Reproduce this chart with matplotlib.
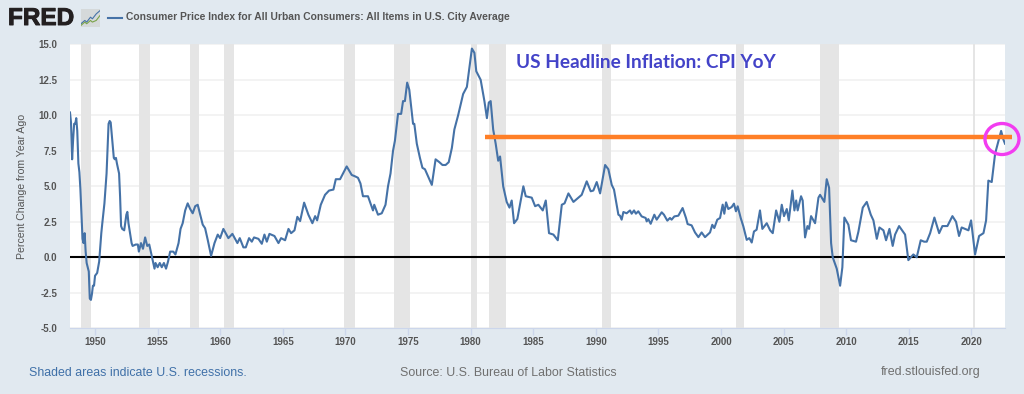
import matplotlib
matplotlib.use("Agg")
import matplotlib.pyplot as plt
import matplotlib.patheffects as pe
from matplotlib.patches import Ellipse, Rectangle

# dates (decimal years) and CPI YoY
dates_a = [1948.0, 1948.08, 1948.17, 1948.25, 1948.33, 1948.42, 1948.5, 1948.58, 1948.67, 1948.75, 1948.83, 1948.92,
           1949.0, 1949.08, 1949.17, 1949.25, 1949.33, 1949.5, 1949.58, 1949.67, 1949.75, 1949.83, 1949.92, 1950.0,
           1950.17, 1950.33, 1950.5, 1950.58, 1950.75, 1950.92, 1951.08, 1951.17, 1951.25, 1951.33, 1951.5, 1951.58,
           1951.67, 1951.75, 1951.92, 1952.0, 1952.08, 1952.17, 1952.33, 1952.5, 1952.58, 1952.67, 1952.92, 1953.0,
           1953.25, 1953.42, 1953.5, 1953.67, 1953.83, 1954.0, 1954.17, 1954.33, 1954.5, 1954.75, 1954.83, 1955.0,
           1955.17, 1955.33, 1955.5, 1955.67, 1955.83, 1956.0, 1956.25, 1956.42, 1956.67, 1956.83, 1957.0, 1957.2,
           1957.4, 1957.6, 1957.8, 1958.0, 1958.2, 1958.4, 1958.6]
values_a = [10.2, 9.5, 6.9, 8.3, 9.4, 9.4, 9.8, 8.9, 6.6, 6.0, 4.8, 3.0,
            1.3, 1.0, 1.7, 0.4, -0.4, -1.0, -2.9, -3.0, -2.6, -2.0, -2.0, -1.3,
            -1.1, -0.3, 1.7, 2.4, 3.8, 5.9, 9.4, 9.6, 9.5, 8.7, 7.0, 6.9,
            7.0, 6.6, 5.9, 4.3, 2.2, 2.0, 1.9, 3.0, 3.2, 2.4, 1.0, 0.8,
            0.9, 0.9, 0.4, 1.0, 0.6, 1.4, 0.8, 0.9, 0.2, -0.8, -0.4, -0.7,
            -0.4, -0.7, -0.4, -0.8, -0.3, 0.4, 0.4, 0.2, 1.0, 2.0, 2.4, 3.3,
            3.8, 3.4, 3.1, 3.6, 3.7, 3.0, 2.3]

dates_b = [1958.79, 1959.0, 1959.27, 1959.54, 1959.8, 1959.99, 1960.25, 1960.65, 1960.97, 1961.37, 1961.56, 1961.85,
           1962.04, 1962.3, 1962.52, 1962.7, 1963.05, 1963.32, 1963.53, 1963.72, 1963.93, 1964.33, 1964.65, 1964.86,
           1965.18, 1965.45, 1965.66, 1965.93, 1966.16, 1966.38, 1966.7, 1967.04, 1967.36, 1967.58, 1967.74, 1968.03,
           1968.37, 1968.69, 1969.04, 1969.23, 1969.57, 1970.1, 1970.5, 1970.77,
           1971.0, 1971.2, 1971.4, 1971.8, 1972.2, 1972.3, 1972.6, 1972.9, 1973.2, 1973.4, 1973.6, 1973.8]
values_b = [2.05, 1.23, 0.1, 1.0, 1.6, 1.35, 2.0, 1.35, 1.65, 1.0, 1.35, 0.7,
            0.7, 1.35, 1.1, 1.4, 1.3, 0.95, 1.6, 1.1, 1.65, 1.5, 1.0, 1.35,
            1.2, 2.0, 1.7, 1.9, 2.85, 2.55, 3.85, 3.0, 2.4, 2.9, 2.6, 3.7,
            4.4, 4.7, 4.77, 5.5, 5.5, 6.4, 5.8, 5.7,
            5.6, 5.2, 4.3, 4.3, 3.3, 3.7, 3.0, 3.1, 3.7, 5.0, 5.9, 7.5]

dates_c = [1973.95, 1974.2, 1974.45, 1974.6, 1974.75, 1974.93, 1975.1, 1975.4, 1975.5, 1975.7, 1975.95, 1976.15,
           1976.35, 1976.6, 1976.9, 1977.2, 1977.5, 1977.75, 1978.0, 1978.25, 1978.5, 1978.7, 1979.0, 1979.4,
           1979.7, 1980.1, 1980.3, 1980.45, 1980.8, 1981.1, 1981.3, 1981.45, 1981.6, 1981.8, 1982.0, 1982.2,
           1982.35, 1982.6, 1982.88, 1983.1, 1983.28, 1983.47, 1983.73, 1984.21, 1984.4, 1984.88, 1985.15, 1985.41,
           1985.76, 1986.0, 1986.26, 1986.61, 1986.96, 1987.28, 1987.5, 1987.81, 1988.21, 1988.87, 1989.27, 1989.59,
           1989.8, 1990.07, 1990.34, 1990.74, 1991.0, 1991.27, 1991.45]
values_c = [8.2, 10.1, 10.1, 11.0, 11.0, 12.3, 11.8, 9.4, 9.4, 8.0, 7.0, 6.3,
            6.2, 5.7, 5.1, 6.9, 6.7, 6.5, 6.5, 6.7, 7.7, 9.0, 10.0, 11.5,
            12.0, 14.7, 14.4, 13.1, 12.5, 11.0, 9.8, 10.9, 11.0, 9.0, 8.0, 6.8,
            7.1, 5.0, 3.9, 3.5, 4.0, 2.4, 2.7, 5.0, 4.3, 4.2, 3.6, 3.7,
            3.3, 4.0, 1.7, 1.6, 1.2, 3.7, 3.8, 4.5, 3.9, 4.4, 5.35, 4.65,
            4.7, 5.3, 4.5, 6.5, 6.2, 5.1, 4.77]

dates_d = [1991.8, 1991.93, 1992.06, 1992.2, 1992.46, 1992.73, 1992.86, 1993.05, 1993.2, 1993.39, 1993.66, 1993.98,
           1994.06, 1994.19, 1994.38, 1994.67, 1994.86, 1995.26, 1995.44, 1995.71, 1995.92, 1996.05, 1996.27, 1996.59,
           1996.93, 1997.2, 1997.33, 1997.65, 1997.92, 1998.19, 1998.45, 1998.72, 1999.12, 1999.3, 1999.46, 1999.7,
           1999.92, 2000.13, 2000.26, 2000.4, 2000.58, 2000.85, 2001.03, 2001.19, 2001.33, 2001.57, 2001.78, 2002.05,
           2002.26, 2002.45, 2002.63, 2002.84, 2003.11]
values_d = [3.0, 2.93, 2.65, 3.19, 3.1, 3.3, 3.07, 3.3, 3.07, 3.24, 2.88, 2.77,
            2.53, 2.69, 2.36, 3.0, 2.65, 3.17, 3.0, 2.58, 2.77, 2.65, 2.88, 2.93,
            3.47, 2.77, 2.34, 2.25, 1.75, 1.42, 1.75, 1.42, 1.75, 2.29, 2.06, 2.65,
            2.77, 3.71, 3.07, 3.87, 3.4, 3.54, 3.78, 3.24, 3.59, 2.77, 2.18, 1.23,
            1.35, 1.04, 1.82, 1.94, 3.3]

dates_e = [2003.3, 2003.65, 2003.92, 2004.13, 2004.4, 2004.66, 2004.85, 2005.03, 2005.25, 2005.41, 2005.7, 2005.86,
           2006.0, 2006.12, 2006.39, 2006.52, 2006.71, 2006.9, 2007.03, 2007.19, 2007.51, 2007.78, 2007.91, 2008.25,
           2008.44, 2008.63, 2008.79, 2008.92, 2009.24, 2009.51, 2009.69, 2009.85, 2010.17, 2010.38, 2010.78, 2010.97,
           2011.32, 2011.64, 2011.96, 2012.17, 2012.44, 2012.65, 2012.97, 2013.18, 2013.45, 2013.71, 2013.9, 2014.22,
           2014.7, 2014.96, 2015.36, 2015.63, 2015.95, 2016.22, 2016.43, 2016.7, 2017.04, 2017.42, 2017.68, 2018.08,
           2018.48, 2018.77, 2019.01, 2019.22, 2019.76, 2019.97, 2020.29, 2020.61, 2020.96, 2021.17, 2021.35, 2021.62,
           2021.89, 2022.37, 2022.55, 2022.68]
values_e = [2.0, 2.4, 1.9, 1.7, 3.3, 2.5, 3.7, 2.9, 3.4, 2.6, 4.7, 3.3,
            4.0, 3.3, 4.3, 4.0, 1.4, 2.2, 2.0, 2.9, 2.4, 4.2, 4.4, 3.9,
            5.5, 4.9, 1.0, 0.0, -0.8, -2.0, -0.7, 2.8, 2.3, 1.2, 1.1, 1.8,
            3.5, 3.9, 3.0, 2.6, 1.3, 2.1, 1.9, 1.2, 2.0, 0.8, 1.6, 2.2,
            1.6, -0.2, 0.2, 0.0, 1.2, 1.1, 1.1, 1.7, 2.8, 1.7, 2.2, 2.2,
            2.9, 2.5, 1.5, 2.1, 1.9, 2.6, 0.2, 1.5, 1.7, 2.6, 5.4, 5.3,
            7.3, 8.9, 8.3, 8.0]

dates = dates_a + dates_b + dates_c + dates_d + dates_e
cpi_yoy = values_a + values_b + values_c + values_d + values_e

recession_start = [1948.85, 1953.5, 1957.6, 1960.3, 1969.9, 1973.85, 1980.0, 1981.5, 1990.5, 2001.2, 2007.9, 2020.1]
recession_end = [1949.7, 1954.35, 1958.3, 1961.1, 1970.8, 1975.15, 1980.5, 1982.85, 1991.2, 2001.85, 2009.4, 2020.3]
year_ticks = list(range(1950, 2021, 5))
y_ticks = [-5.0, -2.5, 0.0, 2.5, 5.0, 7.5, 10.0, 12.5, 15.0]
headline_level = 8.45

plt.rcParams['font.family'] = ['Liberation Sans', 'DejaVu Sans']
bg = '#e1e9f0'
fig = plt.figure(figsize=(10.24, 3.94), dpi=100, facecolor=bg)
ax = fig.add_axes([70/1024, 1-328.3/394, 935/1024, 284/394])

for s, e in zip(recession_start, recession_end):
    ax.axvspan(s, e, color='#e5e5e5', lw=0, zorder=1)
ax.grid(axis='y', color='#f2f2f2', lw=1.3, zorder=0)
ax.set_axisbelow(True)
ax.axhline(0, color='black', lw=1.5, zorder=3)
ax.plot(dates, cpi_yoy, color='#4572a7', lw=1.5, zorder=4, solid_joinstyle='round')

ax.set_xlim(1948.0, 2022.68)
ax.set_ylim(-5, 15)
ax.set_xticks(year_ticks)
ax.set_yticks(y_ticks)
ax.set_yticklabels([f"{v:.1f}" for v in y_ticks])
ax.tick_params(axis='x', colors='#ccd6eb', length=5, width=1, labelcolor='#555555', labelsize=7, pad=1)
ax.tick_params(axis='y', length=0, labelcolor='#555555', labelsize=7, pad=9)
for lab in ax.get_xticklabels() + ax.get_yticklabels():
    lab.set_fontweight('bold')
for side in ['top', 'right', 'left']:
    ax.spines[side].set_visible(False)
ax.spines['bottom'].set_color('#ccd6eb')
ax.set_ylabel("Percent Change from Year Ago", fontsize=7.6, color='#555555', labelpad=8)

# annotations put on top of the FRED chart
ax.plot([1981.15, 2023.2], [headline_level, headline_level], color='#ff7f27', lw=3.2,
        solid_capstyle='butt', clip_on=False, zorder=5)
fig.add_artist(Ellipse((1002/1024, 1-139/394), 34/1024, 31/394, transform=fig.transFigure,
                       fill=False, edgecolor='#f23cf0', lw=2.4, zorder=6))
fig.text(516/1024, 1-63/394, "US Headline Inflation: CPI YoY", family='Lato', fontweight='bold',
         fontsize=13.7, color='#4343c8', va='center')

# header
logo = fig.text(8/1024, 1-18.5/394, "FRED", fontsize=17.5, fontweight='bold', color='#231f20', va='center')
logo.set_path_effects([pe.withStroke(linewidth=0.7, foreground='#231f20')])
icon = fig.add_axes([81/1024, 1-27/394, 19/1024, 18/394])
icon.add_patch(Rectangle((0, 0), 1, 1, transform=icon.transAxes, color='#d5d9da', zorder=0))
icon.plot([0, 2, 3, 5, 6, 8, 10], [2, 4, 3, 6, 5, 8, 10], color='#4572a7', lw=0.8)
icon.plot([0, 2, 3, 5, 6, 8, 10], [1, 3, 2, 4, 3, 4, 7], color='#7aa349', lw=0.8)
icon.set_xlim(0, 10)
icon.set_ylim(0, 11)
icon.axis('off')
fig.add_artist(plt.Line2D([108/1024, 122/1024], [1-17.5/394, 1-17.5/394], color='#4572a7', lw=1.5))
fig.text(126/1024, 1-17.5/394, "Consumer Price Index for All Urban Consumers: All Items in U.S. City Average",
         fontsize=7.35, fontweight='bold', color='#555555', va='center')

# footer
fig.text(29/1024, 1-373/394, "Shaded areas indicate U.S. recessions.", fontsize=8.9, color='#3f70a8', va='center')
fig.text(400/1024, 1-373/394, "Source: U.S. Bureau of Labor Statistics", fontsize=8.95, color='#707070', va='center')
fig.text(881/1024, 1-372/394, "fred.stlouisfed.org", fontsize=9, color='#707070', va='center')

fig.savefig("out.png", dpi=100, facecolor=bg)
